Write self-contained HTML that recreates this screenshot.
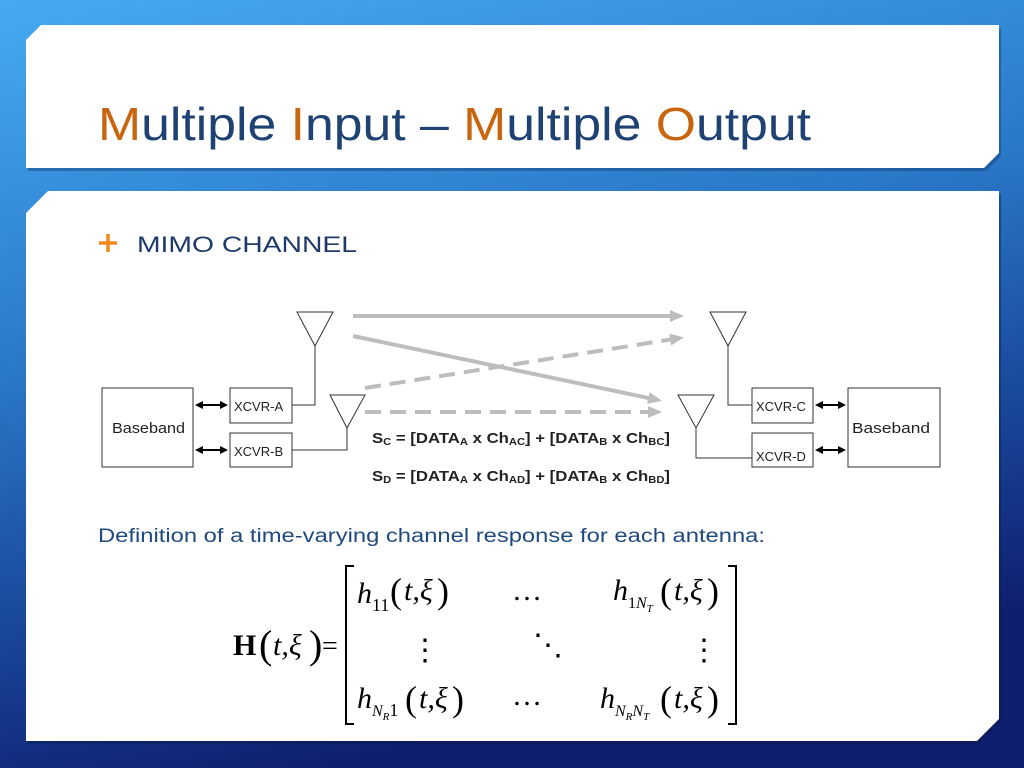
<!DOCTYPE html>
<html><head><meta charset="utf-8"><style>
html,body{margin:0;padding:0;width:1024px;height:768px;overflow:hidden}
</style></head><body>
<svg width="1024" height="768" xmlns="http://www.w3.org/2000/svg" style="display:block">
<defs>
<linearGradient id="bg" x1="0" y1="0" x2="0.3" y2="1">
<stop offset="0" stop-color="#45aaf2"/><stop offset="0.45" stop-color="#2a78c8"/><stop offset="0.8" stop-color="#173f92"/><stop offset="1" stop-color="#0f1f6e"/>
</linearGradient>
<marker id="ag" markerWidth="14" markerHeight="12" refX="10" refY="6" orient="auto" markerUnits="userSpaceOnUse"><path d="M0,0 L14,6 L0,12 Z" fill="#bdbdbd"/></marker>
<marker id="ak" markerWidth="8" markerHeight="8" refX="6" refY="4" orient="auto" markerUnits="userSpaceOnUse"><path d="M0,0 L8,4 L0,8 Z" fill="#000"/></marker>
<marker id="aks" markerWidth="8" markerHeight="8" refX="2" refY="4" orient="auto" markerUnits="userSpaceOnUse"><path d="M8,0 L0,4 L8,8 Z" fill="#000"/></marker>
</defs>
<rect width="1024" height="768" fill="url(#bg)"/>
<polygon points="41,25 999,25 999,153 984,168 26,168 26,40" fill="#0c2a5a" opacity="0.35" transform="translate(2,3)"/>
<polygon points="41,25 999,25 999,153 984,168 26,168 26,40" fill="#fff"/>
<polygon points="48,191 999,191 999,719 977,741 26,741 26,213" fill="#081848" opacity="0.4" transform="translate(2,3)"/>
<polygon points="48,191 999,191 999,719 977,741 26,741 26,213" fill="#fff"/>
<text x="98" y="140" font-family="Liberation Sans, sans-serif" font-size="46" fill="#1f4274" textLength="713" lengthAdjust="spacingAndGlyphs"><tspan fill="#c8650f">M</tspan>ultiple <tspan fill="#c8650f">I</tspan>nput – <tspan fill="#c8650f">M</tspan>ultiple <tspan fill="#c8650f">O</tspan>utput</text>
<path d="M99,243 H117 M108,234 V252" stroke="#f08a1c" stroke-width="3.5"/>
<text x="137" y="252" font-family="Liberation Sans, sans-serif" font-size="22" fill="#1f3a68" textLength="220" lengthAdjust="spacingAndGlyphs">MIMO CHANNEL</text>
<g stroke="#bdbdbd" stroke-width="4" fill="none">
<line x1="353" y1="316" x2="680" y2="316" marker-end="url(#ag)"/>
<line x1="353" y1="336" x2="658" y2="400" marker-end="url(#ag)"/>
<line x1="365" y1="388" x2="680" y2="338" stroke-dasharray="16,9" marker-end="url(#ag)"/>
<line x1="365" y1="412" x2="658" y2="412" stroke-dasharray="16,9" marker-end="url(#ag)"/>
</g>
<g stroke="#333" stroke-width="1" fill="#fff">
<rect x="102" y="388" width="91" height="79"/>
<rect x="230" y="388" width="62" height="35"/>
<rect x="230" y="433" width="62" height="34"/>
<rect x="752" y="388" width="61" height="35"/>
<rect x="752" y="433" width="61" height="34"/>
<rect x="848" y="388" width="92" height="79"/>
<polygon points="297,312 333,312 315,346"/>
<polygon points="330,395 365,395 347,428"/>
<polygon points="710,312 746,312 728,346"/>
<polygon points="678,395 714,395 696,428"/>
<polyline fill="none" points="315,346 315,405 292,405"/>
<polyline fill="none" points="347,428 347,450 292,450"/>
<polyline fill="none" points="728,346 728,405 752,405"/>
<polyline fill="none" points="696,428 696,458 752,458"/>
</g>
<g stroke="#000" stroke-width="2">
<line x1="197" y1="405" x2="226" y2="405" marker-start="url(#aks)" marker-end="url(#ak)"/>
<line x1="197" y1="450" x2="226" y2="450" marker-start="url(#aks)" marker-end="url(#ak)"/>
<line x1="817" y1="405" x2="844" y2="405" marker-start="url(#aks)" marker-end="url(#ak)"/>
<line x1="817" y1="450" x2="844" y2="450" marker-start="url(#aks)" marker-end="url(#ak)"/>
</g>
<g font-family="Liberation Sans, sans-serif" fill="#222">
<text x="112" y="433" font-size="15" textLength="73" lengthAdjust="spacingAndGlyphs">Baseband</text>
<text x="852" y="433" font-size="15" textLength="78" lengthAdjust="spacingAndGlyphs">Baseband</text>
<text x="234" y="411" font-size="13">XCVR-A</text>
<text x="234" y="456" font-size="13">XCVR-B</text>
<text x="756" y="411" font-size="13">XCVR-C</text>
<text x="756" y="461" font-size="13">XCVR-D</text>
<g font-size="15" font-weight="bold">
<text x="372" y="443" textLength="298" lengthAdjust="spacingAndGlyphs">S<tspan font-size="10" dy="2">C</tspan><tspan dy="-2">  =  [DATA</tspan><tspan font-size="10" dy="2">A</tspan><tspan dy="-2"> x Ch</tspan><tspan font-size="10" dy="2">AC</tspan><tspan dy="-2">] + [DATA</tspan><tspan font-size="10" dy="2">B</tspan><tspan dy="-2"> x Ch</tspan><tspan font-size="10" dy="2">BC</tspan><tspan dy="-2">]</tspan></text>
<text x="372" y="481" textLength="298" lengthAdjust="spacingAndGlyphs">S<tspan font-size="10" dy="2">D</tspan><tspan dy="-2">  =  [DATA</tspan><tspan font-size="10" dy="2">A</tspan><tspan dy="-2"> x Ch</tspan><tspan font-size="10" dy="2">AD</tspan><tspan dy="-2">] + [DATA</tspan><tspan font-size="10" dy="2">B</tspan><tspan dy="-2"> x Ch</tspan><tspan font-size="10" dy="2">BD</tspan><tspan dy="-2">]</tspan></text>
</g>
</g>
<text x="98" y="542" font-family="Liberation Sans, sans-serif" font-size="19" fill="#1f4a80" textLength="667" lengthAdjust="spacingAndGlyphs">Definition of a time-varying channel response for each antenna:</text>
<g font-family="Liberation Serif, serif" fill="#000">
<text x="233" y="655" font-size="30" font-weight="bold">H</text>
<text x="259" y="658" font-size="40">(</text>
<text x="273" y="655" font-size="30" font-style="italic">t,ξ</text>
<text x="309" y="658" font-size="40">)</text>
<text x="322" y="655" font-size="28">=</text>
<path d="M354,566 H346 V724 H354 M728,566 H736 V724 H728" stroke="#000" stroke-width="2" fill="none"/>
<g font-size="30">
<text x="357" y="603" font-style="italic">h<tspan font-size="18" font-style="normal" dy="8">11</tspan></text>
<text x="390" y="603" font-size="36">(</text><text x="404" y="600" font-style="italic">t,ξ</text><text x="437" y="603" font-size="36">)</text>
<text x="512" y="600">…</text>
<text x="613" y="600" font-style="italic">h<tspan font-size="16" font-style="normal" dy="8">1</tspan><tspan font-size="16" dy="0">N</tspan><tspan font-size="11" dy="4">T</tspan></text>
<text x="660" y="603" font-size="36">(</text><text x="674" y="600" font-style="italic">t,ξ</text><text x="707" y="603" font-size="36">)</text>
<text x="410" y="660">⋮</text>
<text x="533" y="655">⋱</text>
<text x="689" y="660">⋮</text>
<text x="357" y="708" font-style="italic">h<tspan font-size="16" dy="8">N</tspan><tspan font-size="11" dy="4">R</tspan><tspan font-size="18" font-style="normal" dy="-4">1</tspan></text>
<text x="405" y="711" font-size="36">(</text><text x="419" y="708" font-style="italic">t,ξ</text><text x="452" y="711" font-size="36">)</text>
<text x="512" y="705">…</text>
<text x="600" y="708" font-style="italic">h<tspan font-size="16" dy="8">N</tspan><tspan font-size="11" dy="4">R</tspan><tspan font-size="16" dy="-4">N</tspan><tspan font-size="11" dy="4">T</tspan></text>
<text x="660" y="711" font-size="36">(</text><text x="674" y="708" font-style="italic">t,ξ</text><text x="707" y="711" font-size="36">)</text>
</g>
</g>
</svg>
</body></html>
